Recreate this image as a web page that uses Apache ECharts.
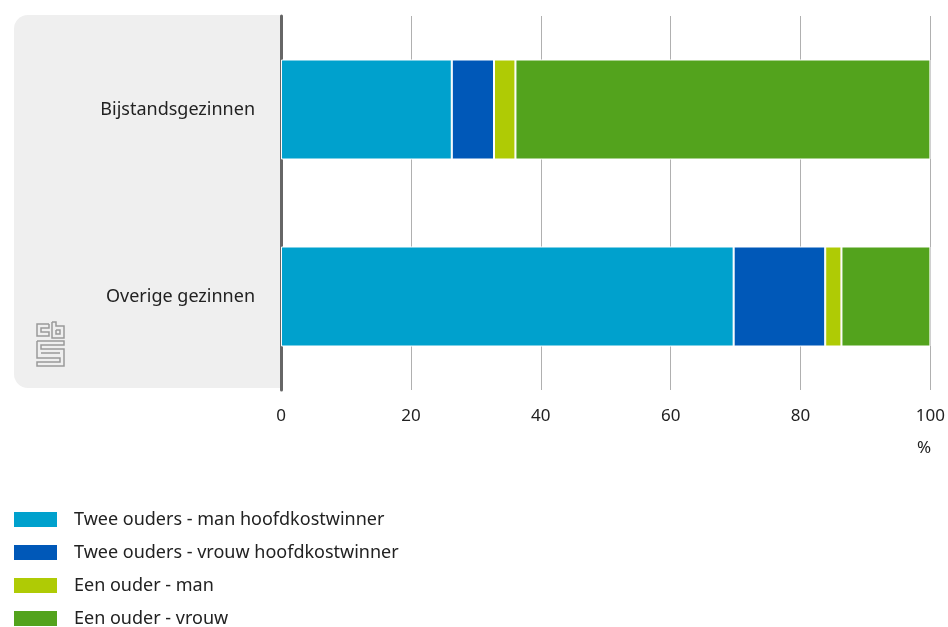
<!DOCTYPE html>
<html>
<head>
<meta charset="utf-8">
<script src="https://cdn.jsdelivr.net/npm/echarts@6/dist/echarts.min.js"></script>
<style>
  html, body { margin: 0; padding: 0; background: #fff; }
  #chart { width: 948px; height: 627px; }
</style>
</head>
<body>
<div id="chart"></div>
<script>
// categories (top to bottom)
var categories = ['Bijstandsgezinnen', 'Overige gezinnen'];
// percentages per type
var tweeMan = [26.3, 69.7];
var tweeVrouw = [6.5, 14.1];
var eenMan = [3.3, 2.5];
var eenVrouw = [63.9, 13.7];
var seriesNames = [
  'Twee ouders - man hoofdkostwinner',
  'Twee ouders - vrouw hoofdkostwinner',
  'Een ouder - man',
  'Een ouder - vrouw'
];
var colors = ['#00a1cd', '#0058b8', '#afcb05', '#53a31d'];
var FONT = 'Noto Sans';

var chart = echarts.init(document.getElementById('chart'));

function bar(name, data, i) {
  return {
    name: name,
    type: 'bar',
    stack: 'total',
    data: data,
    barWidth: 100,
    itemStyle: { color: colors[i], borderColor: '#fff', borderWidth: 1 }
  };
}

// cbs logo outline, drawn as simple polylines
var logoStroke = { stroke: '#9a9a9a', lineWidth: 1.5, fill: null };
var logo = [
  // c
  [[49, 324], [37, 324], [37, 336], [49, 336], [49, 332], [41, 332], [41, 328], [49, 328], [49, 324]],
  // b
  [[52, 322], [56, 322], [56, 326], [64, 326], [64, 338], [52, 338], [52, 322]],
  [[56, 330], [60, 330], [60, 334], [56, 334], [56, 330]],
  // s
  [[37, 341], [64, 341], [64, 345], [41, 345], [41, 349], [64, 349], [64, 366], [37, 366], [37, 362], [60, 362], [60, 358], [37, 358], [37, 341]],
  [[41, 353], [60, 353]]
].map(function (pts) {
  return { type: 'polyline', z: 1, shape: { points: pts }, style: logoStroke };
});

chart.setOption({
  animation: false,
  color: colors,
  textStyle: { fontFamily: FONT },
  grid: { left: 281, right: 17, top: 16, bottom: 237 },
  xAxis: {
    type: 'value',
    min: 0,
    max: 100,
    interval: 20,
    axisLine: { show: false },
    axisTick: { show: false },
    splitLine: { lineStyle: { color: '#b0b0b0', width: 1 } },
    axisLabel: { color: '#222', fontSize: 17, margin: 18, fontFamily: FONT }
  },
  yAxis: {
    type: 'category',
    data: categories,
    inverse: true,
    axisLine: { lineStyle: { color: '#666', width: 3 } },
    axisTick: { show: false },
    axisLabel: { color: '#222', fontSize: 18, margin: 26, fontFamily: FONT }
  },
  legend: {
    orient: 'vertical',
    left: 12,
    top: 510,
    height: 130,
    padding: 0,
    icon: 'rect',
    itemWidth: 45,
    itemHeight: 17,
    itemGap: 14,
    selectedMode: false,
    textStyle: { fontSize: 18, lineHeight: 17, color: '#222', padding: [0, 0, 0, 11], fontFamily: FONT },
    data: seriesNames
  },
  graphic: [
    {
      type: 'rect',
      z: -10,
      shape: { x: 14, y: 15, width: 266, height: 373, r: [14, 0, 0, 14] },
      style: { fill: '#efefef' }
    },
    {
      type: 'text',
      left: 917,
      top: 440,
      style: { text: '%', fill: '#222', font: '17px "Noto Sans"' }
    }
  ].concat(logo),
  series: [
    bar(seriesNames[0], tweeMan, 0),
    bar(seriesNames[1], tweeVrouw, 1),
    bar(seriesNames[2], eenMan, 2),
    bar(seriesNames[3], eenVrouw, 3)
  ]
});
</script>
</body>
</html>
